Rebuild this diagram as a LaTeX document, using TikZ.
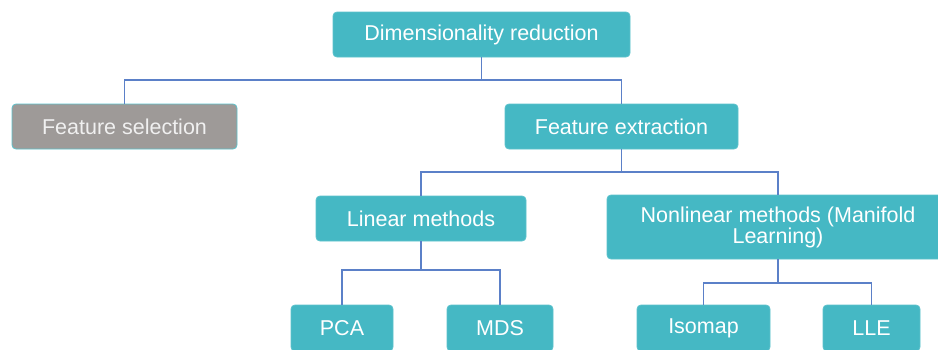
\documentclass[tikz,border=0pt]{standalone}
\usepackage{fontspec}
\setmainfont{Liberation Sans}
\definecolor{tealbox}{HTML}{45B8C4}
\definecolor{tealedge}{HTML}{5CC2CC}
\definecolor{greybox}{HTML}{9E9A98}
\definecolor{linkblue}{HTML}{5B80C8}
\tikzset{
  box/.style={draw=tealedge, line width=0.8pt, fill=tealbox, rounded corners=4pt,
    text=white, align=center, inner sep=0pt,
    font=\fontsize{21.5}{21}\selectfont},
  greyfill/.style={fill=greybox, text=white!94!black},
  link/.style={draw=linkblue, line width=1.5pt},
}
\begin{document}
\begin{tikzpicture}[x=1pt, y=-1pt]
  \useasboundingbox (0,0) rectangle (938,349);
  \clip (0,0) rectangle (938,349);

  % boxes
  \node[box, minimum width=297pt, minimum height=45pt] (top) at (481.5,34.5) {Dimensionality reduction};
  \node[box, greyfill, minimum width=225pt, minimum height=45pt] (fs) at (124.5,126.5) {Feature selection};
  \node[box, minimum width=233pt, minimum height=45pt] (fe) at (621.5,126.5) {Feature extraction};
  \node[box, minimum width=210pt, minimum height=45pt] (lin) at (421,218.5) {Linear methods};
  \node[box, minimum width=342pt, minimum height=64pt] (nl) at (778,227) {Nonlinear methods (Manifold\\Learning)};
  \node[box, minimum width=102pt, minimum height=46pt] (pca) at (342,328) {PCA};
  \node[box, minimum width=106pt, minimum height=46pt] (mds) at (500,328) {MDS};
  \node[box, minimum width=133pt, minimum height=46pt] (iso) at (703.5,328) {Isomap};
  \node[box, minimum width=97pt, minimum height=46pt] (lle) at (871.5,328) {LLE};

  % bus heights of the tree connectors
  \coordinate (b1) at (0,80);
  \coordinate (b2) at (0,172);
  \coordinate (b3) at (0,270);
  \coordinate (b4) at (0,283);

  % connectors
  \draw[link] (top.south) -- (top.south |- b1) -| (fs.north);
  \draw[link] (top.south |- b1) -| (fe.north);
  \draw[link] (fe.south) -- (fe.south |- b2) -| (lin.north);
  \draw[link] (fe.south |- b2) -| (nl.north);
  \draw[link] (lin.south) -- (lin.south |- b3) -| (pca.north);
  \draw[link] (lin.south |- b3) -| (mds.north);
  \draw[link] (nl.south) -- (nl.south |- b4) -| (iso.north);
  \draw[link] (nl.south |- b4) -| (lle.north);
\end{tikzpicture}
\end{document}
